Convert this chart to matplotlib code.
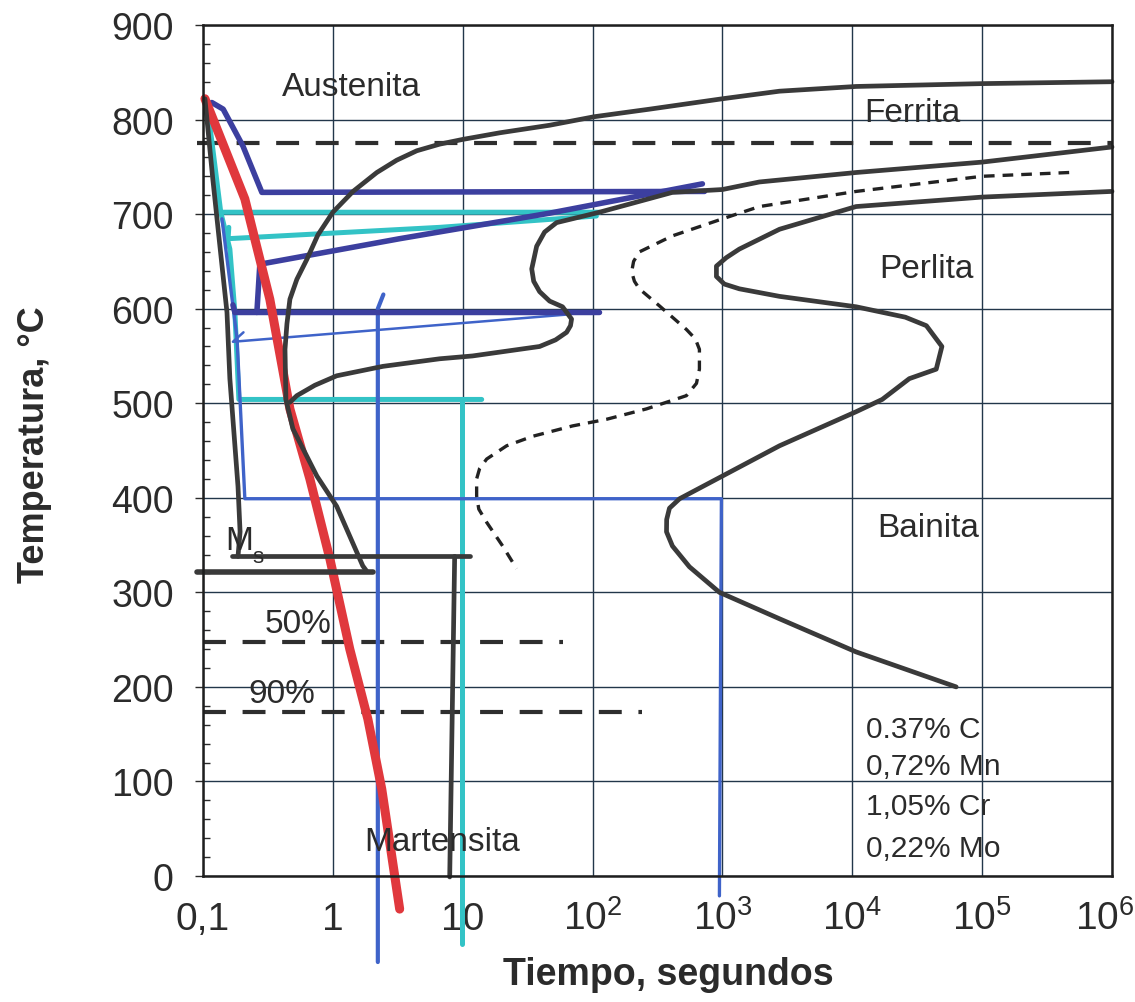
import matplotlib.pyplot as plt
from matplotlib.ticker import MultipleLocator, NullLocator
from matplotlib.transforms import ScaledTranslation

plt.rcParams['font.family'] = ['Liberation Sans', 'DejaVu Sans']
plt.rcParams['mathtext.fontset'] = 'custom'
plt.rcParams['mathtext.rm'] = 'Liberation Sans'
plt.rcParams['mathtext.it'] = 'Liberation Sans'

# --- curves (time in s, temperature in C) ---
ferrite_start_t = [1e6, 1e5, 1.07e4, 2750, 1000, 275, 103, 46.8, 19.3, 10, 6.65, 4.43, 3.1,
                   2.18, 1.43, 1.0, 0.767, 0.63, 0.528, 0.467, 0.443, 0.428, 0.435,
                   0.492, 0.753, 1.07, 1.70, 1.83]
ferrite_start_T = [840, 838, 835, 830, 822, 811, 803, 794, 786, 779, 774, 767, 757,
                   744, 724, 702, 678, 652, 631, 610, 584, 557, 504,
                   473, 423, 391, 328, 322]

pearlite_start_t = [1e6, 1e5, 1.07e4, 1928, 1000, 412, 113, 52.8, 42.7, 37.1, 34.0, 35.2,
                    39.1, 46.7, 58.7, 68.9, 67.6, 63.1, 51.9, 39.1, 11.9, 6.65, 2.43, 1.07,
                    0.727, 0.528, 0.467]
pearlite_start_T = [771, 755, 744, 734, 726, 723, 702, 691, 681, 666, 642, 629,
                    618, 608, 602, 589, 582, 575, 567, 560, 550, 547, 539, 529,
                    519, 508, 501]

end_t = [1e6, 1e5, 1.07e4, 2754, 1349, 1072, 899, 899, 1035, 1349, 2754, 1.07e4, 2.56e4,
         3.72e4, 4.9e4, 4.43e4, 2.75e4, 1.7e4, 1.07e4, 2754, 1000, 468, 391, 372, 371,
         412, 557, 948, 2754, 1.07e4, 6.31e4]
end_T = [724, 718, 708, 684, 663, 654, 645, 634, 626, 621, 613, 602, 591,
         582, 560, 536, 526, 504, 491, 455, 423, 399, 389, 377, 364,
         349, 327, 300, 272, 237, 200]

half_t = [4.68e5, 1e5, 1.07e4, 1928, 1000, 412, 229, 207, 200, 210, 229, 327, 528, 619,
          665, 665, 631, 528, 260, 128, 70.1, 34.5, 21.8, 15.3, 13.5, 12.8, 12.8, 13.3,
          15.3, 20.3, 26.0]
half_T = [744, 740, 724, 708, 695, 677, 660, 650, 639, 629, 621, 603, 578, 568,
          557, 536, 521, 508, 494, 483, 476, 465, 455, 441, 431, 420, 402, 388,
          374, 349, 325]

# cooling paths drawn by hand
steep_t = [0.1035, 0.119, 0.135, 0.153, 0.161, 0.186, 0.193, 0.186]
steep_T = [822, 737, 666, 596, 526, 412, 364, 338]

red_t = [0.1035, 0.21, 0.327, 0.467, 0.665, 0.95, 1.35, 1.86, 2.38, 3.27]
red_T = [822, 716, 610, 494, 420, 335, 240, 166, 92, -35]

navy720_t = [0.117, 0.143, 0.203, 0.284, 728]
navy720_T = [818, 811, 772, 723, 724]
navy600_t = [0.17, 0.176, 113]
navy600_T = [604, 596, 596]
navy_diag_t = [0.26, 0.274, 3.27, 46.7, 701]
navy_diag_T = [596, 647, 674, 701, 732]

cyan700_t = [0.107, 0.119, 0.137, 113]
cyan700_T = [818, 769, 702, 702]
cyan675_t = [0.158, 0.156, 6.65, 107]
cyan675_T = [686, 674, 686, 698]
cyan500_t = [0.137, 0.161, 0.176, 0.189, 14.0]
cyan500_T = [702, 663, 596, 504, 504]
cyan_drop_t = [9.8, 9.8]
cyan_drop_T = [504, -72]

blue400_t = [0.14, 0.183, 0.21, 982, 948]
blue400_T = [695, 568, 399, 399, -21]
blue_diag_t = [0.205, 0.17, 66.5]
blue_diag_T = [575, 565, 594]
blue_drop_t = [2.45, 2.22, 2.22]
blue_drop_T = [615, 600, -91]

black_drop_t = [8.67, 7.94]
black_drop_T = [338, -1]
ms_t = [0.167, 11.3]
ms_T = [338, 338]
low_t = [0.09, 2.03]
low_T = [322, 322]

dash_levels = [775, 248, 173]
dash_ends = [1e6, 58.7, 240]

x_ticks = [0.1, 1, 10, 100, 1e3, 1e4, 1e5, 1e6]
x_labels = ['0,1', '1', '10', '$10^2$', '$10^3$', '$10^4$', '$10^5$', '$10^6$']
y_ticks = list(range(0, 901, 100))

phase_names = ['Austenita', 'Ferrita', 'Perlita', 'Bainita', 'Martensita', '50%', '90%']
phase_t = [0.406, 1.24e4, 1.61e4, 1.55e4, 1.76, 0.30, 0.222]
phase_T = [826, 798, 633, 360, 28, 258, 184]

comp_lines = ['0.37% C', '0,72% Mn', '1,05% Cr', '0,22% Mo']
comp_T = [147, 108, 66, 21]

INK = '#2b2b2b'
BLACK = '#3a3a3a'
RED = '#e0383d'
NAVY = '#3c3f9f'
CYAN = '#33c3c6'
BLUE = '#3f63c9'
GRID = '#22364a'

fig = plt.figure(figsize=(11.35, 10.03), dpi=100)
ax = fig.add_axes([203 / 1135, 1 - 877 / 1003, (1112 - 203) / 1135, (877 - 26) / 1003])
ax.set_xscale('log')
ax.set_xlim(0.1, 1e6)
ax.set_ylim(0, 900)

ax.set_xticks(x_ticks)
ax.set_xticklabels(x_labels)
ax.xaxis.set_minor_locator(NullLocator())
ax.set_yticks(y_ticks)
ax.yaxis.set_minor_locator(MultipleLocator(20))
ax.grid(True, which='major', color=GRID, lw=1.0)
ax.set_axisbelow(True)
ax.tick_params(axis='x', length=0, pad=38, labelsize=28, labelcolor=INK)
ax.tick_params(axis='y', which='major', length=6, width=1, direction='out', pad=15,
               labelsize=27, labelcolor=INK, color=INK)
ax.tick_params(axis='y', which='minor', length=5, width=1, direction='in', color=INK)
xlbls = ax.get_xticklabels()
for lbl in xlbls:
    lbl.set_va('baseline')
xlbls[-1].set_transform(xlbls[-1].get_transform()
                        + ScaledTranslation(-7 / 100, 0, fig.dpi_scale_trans))
for sp in ax.spines.values():
    sp.set_color('#1e1e1e')
    sp.set_linewidth(1.8)

common = dict(solid_capstyle='round', solid_joinstyle='round', clip_on=False)

# horizontal dashed reference lines
for lev, end in zip(dash_levels, dash_ends):
    start = 0.09 if lev > 700 else 0.1
    ax.plot([start, end], [lev, lev], color='#2e2e2e', lw=3, ls=(0, (5.5, 4)), clip_on=False)

# coloured cooling paths
ax.plot(cyan700_t, cyan700_T, color=CYAN, lw=3.6, **common)
ax.plot(cyan675_t, cyan675_T, color=CYAN, lw=3.6, **common)
ax.plot(cyan500_t, cyan500_T, color=CYAN, lw=3.6, **common)
ax.plot(cyan_drop_t, cyan_drop_T, color=CYAN, lw=3.6, **common)
ax.plot(blue400_t, blue400_T, color=BLUE, lw=2.4, **common)
ax.plot(blue_diag_t, blue_diag_T, color=BLUE, lw=1.8, **common)
ax.plot(blue_drop_t, blue_drop_T, color=BLUE, lw=3, **common)
ax.plot(navy720_t, navy720_T, color=NAVY, lw=4, **common)
ax.plot(navy600_t, navy600_T, color=NAVY, lw=4, **common)
ax.plot(navy_diag_t, navy_diag_T, color=NAVY, lw=4, **common)
ax.plot(red_t, red_T, color=RED, lw=6.5, **common)

# transformation curves
ax.plot(half_t, half_T, color='#222222', lw=2.4, ls=(0, (3.2, 2.4)), clip_on=False)
ax.plot(ferrite_start_t, ferrite_start_T, color=BLACK, lw=3.4, **common)
ax.plot(pearlite_start_t, pearlite_start_T, color=BLACK, lw=3.4, **common)
ax.plot(end_t, end_T, color=BLACK, lw=3.4, **common)
ax.plot(steep_t, steep_T, color=BLACK, lw=3.4, **common)
ax.plot(black_drop_t, black_drop_T, color=BLACK, lw=3.4, **common)
ax.plot(ms_t, ms_T, color=BLACK, lw=3.4, **common)
ax.plot(low_t, low_T, color=BLACK, lw=4, **common)

for name, t, T in zip(phase_names, phase_t, phase_T):
    ax.text(t, T, name, fontsize=24, color=INK, ha='left', va='baseline')
ax.text(0.148, 346, 'M', fontsize=24, color=INK, ha='left', va='baseline')
ax.text(0.238, 332, 's', fontsize=16, color=INK, ha='left', va='baseline')
for line, T in zip(comp_lines, comp_T):
    ax.text(1.28e4, T, line, fontsize=21.5, color=INK, ha='left', va='baseline')

fig.text(668 / 1135, 1 - 975 / 1003, 'Tiempo, segundos', fontsize=27, fontweight='bold',
         color=INK, ha='center', va='center')
fig.text(35 / 1135, 1 - 445 / 1003, 'Temperatura, °C', fontsize=26, fontweight='bold',
         color=INK, ha='center', va='center', rotation=90)

fig.savefig('out.png', dpi=100)
